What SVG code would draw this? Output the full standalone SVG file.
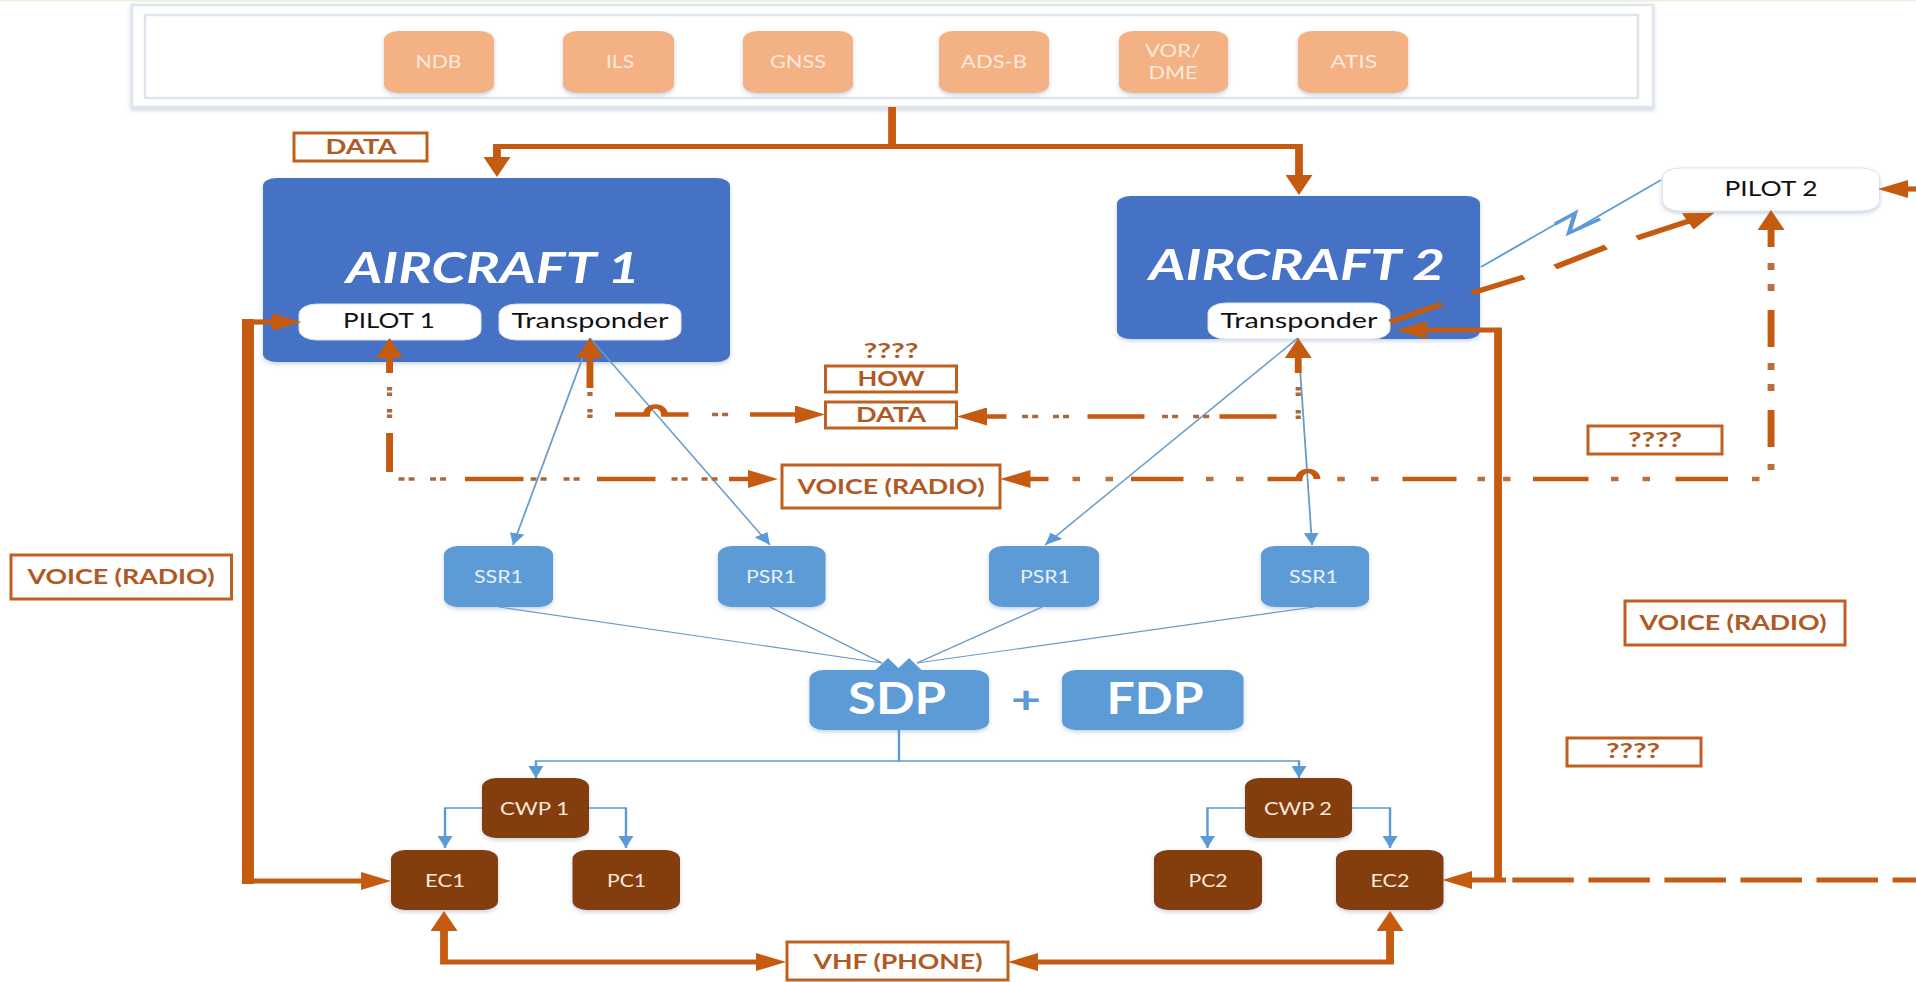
<svg xmlns="http://www.w3.org/2000/svg" width="1916" height="982" viewBox="0 0 1916 982">
<style>
text{font-family:Lato,"Liberation Sans",sans-serif;text-anchor:middle}
.frame{fill:#fff;stroke:#dfe5ee;stroke-width:2.5}
.src{fill:#F4B183}
.srct{fill:#fbeadf;font-size:16.500px}
.ac{fill:#4472C4}
.act{fill:#fff;font-size:42px;font-weight:700;font-style:italic}
.pill{fill:#fff;stroke:#dde3ee;stroke-width:1}
.pillt{fill:#111;font-size:21px}
.rad{fill:#5B9BD5}
.radt{fill:#e8f1fa;font-size:16.500px}
.big{fill:#fff;font-size:44px;font-weight:700}
.plus{fill:#5B9BD5;font-size:39px;font-weight:700}
.cwp{fill:#843C0C}
.cwpt{fill:#fbeadf;font-size:16.500px}
.lab{fill:#fff;stroke:#C0601F;stroke-width:3}
.labt{fill:#AF5A24;font-size:20.500px;font-weight:700}
.q{fill:#AF5A24;font-size:20.500px;font-weight:700}
.th{fill:none;stroke:#C55A11;stroke-width:5.200}
.ds{fill:none;stroke:#C55A11;stroke-width:4.600}
.dot{fill:none;stroke:#A9693C;stroke-width:3.500}
.dot1{fill:none;stroke:#B9703E;stroke-width:4.600}
.tk{marker-end:url(#ah)}
.bl{fill:none;stroke:#6A9BC9;stroke-width:1.200}
.bl2{fill:none;stroke:#5B9BD5;stroke-width:1.600}
.bk{marker-end:url(#bh)}
</style>
<defs>
<filter id="sh" x="-15%" y="-15%" width="130%" height="140%"><feDropShadow dx="0" dy="2" stdDeviation="2" flood-color="#5f7fa8" flood-opacity=".35"/></filter>
<marker id="ah" markerUnits="userSpaceOnUse" markerWidth="20" markerHeight="18" refX="1" refY="9" orient="auto-start-reverse"><path d="M0 0L20 9L0 18Z" fill="#C55A11"/></marker>
<marker id="bh" markerUnits="userSpaceOnUse" markerWidth="12" markerHeight="10" refX="12" refY="5" orient="auto"><path d="M0 0L12 5L0 10Z" fill="#5B9BD5"/></marker>
</defs>
<rect width="1916" height="982" fill="#fff"/>
<rect x="0" y="0" width="1916" height="1.500" fill="#eeeedd"/>

<g id="sources">
<rect class="frame" x="132" y="5" width="1521" height="102" filter="url(#sh)"/>
<rect class="frame" x="145" y="15" width="1493" height="83"/>
</g>
<g id="ndb"><rect class="src" x="384" y="31" width="110" height="62" rx="14" ry="9" filter="url(#sh)"/><text class="srct" x="438.500" y="68" textLength="46" lengthAdjust="spacingAndGlyphs">NDB</text></g>
<g id="ils"><rect class="src" x="563" y="31" width="111" height="62" rx="14" ry="9" filter="url(#sh)"/><text class="srct" x="620" y="68" textLength="28" lengthAdjust="spacingAndGlyphs">ILS</text></g>
<g id="gnss"><rect class="src" x="743" y="31" width="110" height="62" rx="14" ry="9" filter="url(#sh)"/><text class="srct" x="798" y="68" textLength="56" lengthAdjust="spacingAndGlyphs">GNSS</text></g>
<g id="adsb"><rect class="src" x="939" y="31" width="110" height="62" rx="14" ry="9" filter="url(#sh)"/><text class="srct" x="994" y="68" textLength="66" lengthAdjust="spacingAndGlyphs">ADS-B</text></g>
<g id="vordme"><rect class="src" x="1119" y="31" width="109" height="62" rx="14" ry="9" filter="url(#sh)"/><text class="srct" x="1173" y="57" textLength="56" lengthAdjust="spacingAndGlyphs">VOR/</text><text class="srct" x="1173" y="79" textLength="49" lengthAdjust="spacingAndGlyphs">DME</text></g>
<g id="atis"><rect class="src" x="1298" y="31" width="110" height="62" rx="14" ry="9" filter="url(#sh)"/><text class="srct" x="1354" y="68" textLength="47" lengthAdjust="spacingAndGlyphs">ATIS</text></g>

<g id="aircraft1"><rect class="ac" x="263" y="178" width="467" height="184" rx="14" ry="8" filter="url(#sh)"/><text class="act" x="493" y="283" textLength="294" lengthAdjust="spacingAndGlyphs">AIRCRAFT 1</text></g>
<g id="pilot1"><rect class="pill" x="299" y="304" width="182" height="36" rx="18" ry="10"/><text class="pillt" x="389" y="328" textLength="92" lengthAdjust="spacingAndGlyphs">PILOT 1</text></g>
<g id="transponder1"><rect class="pill" x="499" y="304" width="182" height="36" rx="18" ry="10"/><text class="pillt" x="590" y="328" textLength="157" lengthAdjust="spacingAndGlyphs">Transponder</text></g>
<g id="aircraft2"><rect class="ac" x="1117" y="196" width="363" height="143" rx="14" ry="8" filter="url(#sh)"/><text class="act" x="1297" y="280" textLength="296" lengthAdjust="spacingAndGlyphs">AIRCRAFT 2</text></g>
<g id="transponder2"><rect class="pill" x="1208" y="303" width="182" height="36" rx="18" ry="10"/><text class="pillt" x="1299" y="328" textLength="157" lengthAdjust="spacingAndGlyphs">Transponder</text></g>
<g id="pilot2"><rect class="pill" x="1662.500" y="168" width="217" height="43" rx="18" ry="10" filter="url(#sh)"/><text class="pillt" x="1771" y="196" textLength="93" lengthAdjust="spacingAndGlyphs">PILOT 2</text></g>

<g id="ssr1a"><rect class="rad" x="444" y="546" width="109" height="61" rx="14" ry="9" filter="url(#sh)"/><text class="radt" x="498.500" y="583" textLength="49" lengthAdjust="spacingAndGlyphs">SSR1</text></g>
<g id="psr1a"><rect class="rad" x="718" y="546" width="107.500" height="61" rx="14" ry="9" filter="url(#sh)"/><text class="radt" x="771" y="583" textLength="50" lengthAdjust="spacingAndGlyphs">PSR1</text></g>
<g id="psr1b"><rect class="rad" x="989" y="546" width="110" height="61" rx="14" ry="9" filter="url(#sh)"/><text class="radt" x="1045" y="583" textLength="50" lengthAdjust="spacingAndGlyphs">PSR1</text></g>
<g id="ssr1b"><rect class="rad" x="1261" y="546" width="108" height="61" rx="14" ry="9" filter="url(#sh)"/><text class="radt" x="1313.500" y="583" textLength="49" lengthAdjust="spacingAndGlyphs">SSR1</text></g>

<g id="sdp"><rect class="rad" x="809.500" y="670" width="179.500" height="60" rx="14" ry="9" filter="url(#sh)"/><text class="big" x="897" y="714" textLength="98" lengthAdjust="spacingAndGlyphs">SDP</text></g>
<text class="plus" x="1026" y="713" textLength="30" lengthAdjust="spacingAndGlyphs">+</text>
<g id="fdp"><rect class="rad" x="1062" y="670" width="181.500" height="60" rx="14" ry="9" filter="url(#sh)"/><text class="big" x="1155" y="714" textLength="97" lengthAdjust="spacingAndGlyphs">FDP</text></g>

<g id="cwp1"><rect class="cwp" x="482" y="778" width="107" height="60" rx="14" ry="9" filter="url(#sh)"/><text class="cwpt" x="534.500" y="815" textLength="69" lengthAdjust="spacingAndGlyphs">CWP 1</text></g>
<g id="cwp2"><rect class="cwp" x="1245" y="778" width="107" height="60" rx="14" ry="9" filter="url(#sh)"/><text class="cwpt" x="1298" y="815" textLength="68" lengthAdjust="spacingAndGlyphs">CWP 2</text></g>
<g id="ec1"><rect class="cwp" x="391" y="850" width="107" height="60" rx="14" ry="9" filter="url(#sh)"/><text class="cwpt" x="445" y="887" textLength="40" lengthAdjust="spacingAndGlyphs">EC1</text></g>
<g id="pc1"><rect class="cwp" x="572.500" y="850" width="107.500" height="60" rx="14" ry="9" filter="url(#sh)"/><text class="cwpt" x="626.500" y="887" textLength="39" lengthAdjust="spacingAndGlyphs">PC1</text></g>
<g id="pc2"><rect class="cwp" x="1154" y="850" width="108" height="60" rx="14" ry="9" filter="url(#sh)"/><text class="cwpt" x="1208" y="887" textLength="39" lengthAdjust="spacingAndGlyphs">PC2</text></g>
<g id="ec2"><rect class="cwp" x="1336" y="850" width="107.500" height="60" rx="14" ry="9" filter="url(#sh)"/><text class="cwpt" x="1390" y="887" textLength="39" lengthAdjust="spacingAndGlyphs">EC2</text></g>

<g id="label-data-top"><rect class="lab" x="294" y="133" width="133" height="28"/><text class="labt" x="361" y="154" textLength="71" lengthAdjust="spacingAndGlyphs">DATA</text></g>
<text id="label-q-top" class="q" x="891" y="358" textLength="55" lengthAdjust="spacingAndGlyphs">????</text>
<g id="label-how"><rect class="lab" x="825.500" y="366" width="131" height="26"/><text class="labt" x="891" y="386" textLength="67" lengthAdjust="spacingAndGlyphs">HOW</text></g>
<g id="label-data-mid"><rect class="lab" x="825.500" y="402" width="131" height="26"/><text class="labt" x="891" y="422" textLength="70" lengthAdjust="spacingAndGlyphs">DATA</text></g>
<g id="label-voice-mid"><rect class="lab" x="782" y="465" width="218" height="43"/><text class="labt" x="891" y="494" textLength="187" lengthAdjust="spacingAndGlyphs">VOICE (RADIO)</text></g>
<g id="label-voice-left"><rect class="lab" x="11" y="555" width="220.500" height="44"/><text class="labt" x="121" y="584" textLength="187" lengthAdjust="spacingAndGlyphs">VOICE (RADIO)</text></g>
<g id="label-voice-right"><rect class="lab" x="1625" y="601" width="220" height="44"/><text class="labt" x="1733" y="630" textLength="187" lengthAdjust="spacingAndGlyphs">VOICE (RADIO)</text></g>
<g id="label-q-a"><rect class="lab" x="1588" y="426" width="134" height="28"/><text class="q" x="1655" y="447" textLength="54" lengthAdjust="spacingAndGlyphs">????</text></g>
<g id="label-q-b"><rect class="lab" x="1567" y="738" width="134" height="28"/><text class="q" x="1633" y="758" textLength="54" lengthAdjust="spacingAndGlyphs">????</text></g>
<g id="label-vhf"><rect class="lab" x="787" y="942" width="221" height="38"/><text class="labt" x="898" y="969" textLength="169" lengthAdjust="spacingAndGlyphs">VHF (PHONE)</text></g>

<g id="connectors" transform="scale(1.5 1)">
<path class="bl bk" d="M393.300 338L342 545"/>
<path class="bl bk" d="M393.300 338L513.300 545"/>
<path class="bl bk" d="M865.300 338L696.700 545"/>
<path class="bl bk" d="M865.300 338L874.700 545"/>
<path class="bl" d="M332.700 607L588 663"/>
<path class="bl" d="M513.300 607L588 663"/>
<path class="bl" d="M694.700 607L611.300 663"/>
<path class="bl" d="M876 607L611.300 663"/>
<path class="rad" d="M583 671L592 658L601 671Z"/>
<path class="rad" d="M597 671L606 658L615 671Z"/>
<path class="bl2 bk" d="M599.300 730V761H357.300V778"/>
<path class="bl2 bk" d="M599.300 761H866V778"/>
<path class="bl2 bk" d="M321.300 808H296.700V848"/>
<path class="bl2 bk" d="M392.700 808H417.300V848"/>
<path class="bl2 bk" d="M830 808H805V848"/>
<path class="bl2 bk" d="M901.300 808H926.700V848"/>
<path class="bl2" d="M987.300 267L1050 213L1046 233L1107.300 180"/>
<path class="bl2" style="stroke-width:3" d="M1036.700 224L1050 213L1046 233L1066.700 219"/>

<path class="th tk" d="M594.700 146.500H331.300V158"/>
<path class="th tk" d="M594.700 107V146.500H866V176"/>
<path class="th" style="stroke-width:8" d="M165.300 319V884"/>
<path class="th tk" d="M165.300 322H182"/>
<path class="th tk" d="M165.300 881H241.700"/>
<path class="th tk" d="M998.700 880V330H950"/>
<path class="th tk" d="M1004 880H980.500"/>
<path class="th" stroke-dasharray="41 9.700" stroke-dashoffset="25.400" d="M1277.300 880H1004"/>
<path class="th tk" d="M1278 189H1271"/>
<path class="th tk" style="marker-start:url(#ah)" d="M296 930V962H505"/>
<path class="th tk" style="marker-start:url(#ah)" d="M926.700 930V962H691"/>

<path class="ds tk" d="M259.700 472V433M259.700 373V357"/>
<path class="dot" d="M259.700 387v3.500m0 2v3.500M259.700 409v3.500m0 2v3.500"/>
<path class="ds tk" d="M310 479H349M398 479H437M486 479H499.700"/>
<path class="dot" d="M265.700 479h4m2.700 0h4M286.700 479h4m2.700 0h4M353.700 479h4m2.700 0h4M375.700 479h4m2.700 0h4M447.700 479h4m2.700 0h4M467.700 479h4m2.700 0h4"/>
<path class="ds tk" d="M393.300 388V357"/>
<path class="dot" d="M393.300 392v4M393.300 409v3.500m0 2v3.500"/>
<path class="ds tk" d="M410 414.500H431a6 8 0 0 1 12 0H459M500 414.500H531"/>
<path class="dot" d="M474.700 414.500h4m2.700 0h4"/>
<path class="ds tk" d="M865.500 373V357"/>
<path class="dot" d="M865.500 387v3.500m0 2v3.500M865.500 410v3.500m0 2v3.500"/>
<path class="ds tk" d="M851 416.500H813M763 416.500H725M671 416.500H657"/>
<path class="dot" d="M795.400 416.500h4m2.700 0h4M774.700 416.500h4m2.700 0h4M702 416.500h4m2.700 0h4M681.400 416.500h4m2.700 0h4"/>
<path class="ds tk" d="M1152 479H1117M1059 479H1022M971 479H935M878 479a6 8 0 0 0 -12 0H845M789 479H754M699 479H686"/>
<path class="dot1" d="M1173 479h-5M1100 479h-5M1079 479h-5M1007 479h-5M990 479h-5M919 479h-5M896.500 479h-5M829 479h-5M809 479h-5M742 479h-5M720 479h-5"/>
<path class="ds tk" d="M1180.700 447V410M1180.700 347V310M1180.700 247V229"/>
<path class="dot1" d="M1180.700 470V464M1180.700 391V384M1180.700 370V363M1180.700 291V284M1180.700 270V263"/>
<path class="th tk" d="M926.700 322L961.300 304M981.300 293L1016 277M1036.700 267L1070.700 247M1091.300 238L1126 221"/>
</g>
</svg>
